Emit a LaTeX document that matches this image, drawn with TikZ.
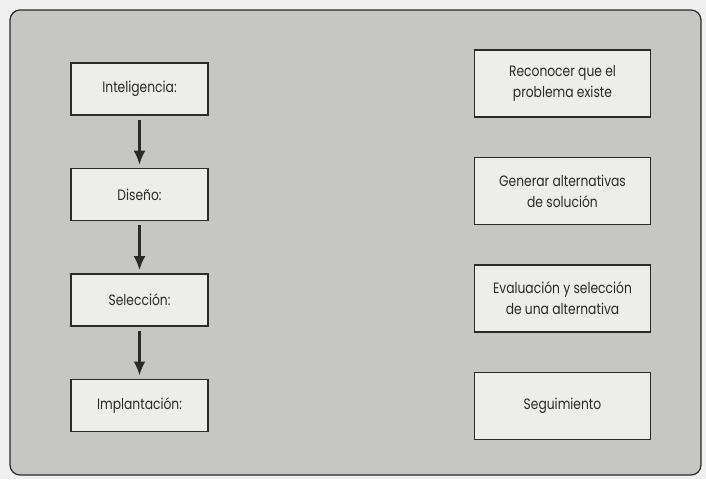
\documentclass[tikz,border=0pt]{standalone}
\usepackage{fontspec}
\setmainfont[FakeStretch=0.82]{Poppins}
\usepackage{tikz}
\usetikzlibrary{arrows.meta, positioning}
\definecolor{panelgray}{HTML}{C6C6C4}
\definecolor{boxfill}{HTML}{EDEDEB}
\definecolor{inkline}{HTML}{2A2A2A}

\begin{document}
\begin{tikzpicture}[
  font=\fontsize{15}{21}\selectfont,
  >=Latex,
  stage/.style={
    draw=inkline,
    line width=1.4pt,
    align=center,
    minimum width=137pt,
    minimum height=52pt,
    fill=boxfill,
    inner sep=3pt,
    text=inkline
  },
  task/.style={stage,minimum width=176pt,minimum height=67pt},
  arr/.style={-{Latex[length=14pt,width=12pt]},line width=2.4pt,draw=inkline,
    shorten <=4pt,shorten >=3pt}
]
\useasboundingbox (0,0) rectangle (706pt,-479pt);
\fill[white!94!black] (0,0) rectangle (706pt,-479pt);
\draw[inkline,line width=1.2pt,fill=panelgray,rounded corners=10pt]
  (10pt,-10pt) rectangle (701pt,-475pt);

\node[stage] (intel) at (139.5pt,-89pt) {Inteligencia:};
\node[stage,below=52pt of intel] (dis) {Diseño:};
\node[stage,below=52pt of dis] (sel) {Selección:};
\node[stage,below=52pt of sel] (impl) {Implantación:};

\node[task] (rec) at (562.5pt,-83.5pt) {Reconocer que el\\problema existe};
\node[task,below=39pt of rec] (gen) {Generar alternativas\\de solución};
\node[task,below=39pt of gen] (eva) {Evaluación y selección\\de una alternativa};
\node[task,below=39pt of eva] (seg) {Seguimiento};

\draw[arr] (intel) -- (dis);
\draw[arr] (dis) -- (sel);
\draw[arr] (sel) -- (impl);

\end{tikzpicture}
\end{document}
